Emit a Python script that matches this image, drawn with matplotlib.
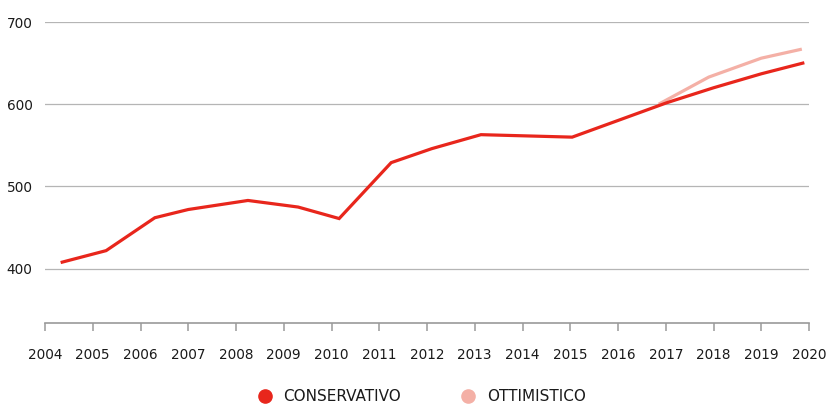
import matplotlib
matplotlib.use("Agg")
import matplotlib.pyplot as plt
from matplotlib.lines import Line2D

# valori
anni_cons = [2004.36, 2005.28, 2006.3, 2007.0, 2008.25, 2009.3, 2010.16, 2011.25,
             2012.1, 2013.13, 2015.04, 2017.03, 2018.0, 2019.0, 2019.87]
val_cons = [408, 422, 462, 472, 483, 475, 461, 529,
            546, 563, 560, 602, 620, 637, 650]

anni_ott = [2016.85, 2017.9, 2019.0, 2019.85]
val_ott = [600, 633, 656, 667]

anni_tick = list(range(2004, 2021))
y_tick = [400, 500, 600, 700]

ROSSO = "#e8261c"
ROSA = "#f4b0a6"
GRIGIO = "#9a9a9a"
TESTO = "#1a1a1a"

fig = plt.figure(figsize=(8.28, 4.04), dpi=100)
ax = fig.add_axes([45 / 828, 1 - 323 / 404, (809 - 45) / 828, (323 - 22) / 404])

ax.plot(anni_ott, val_ott, color=ROSA, lw=2.3, solid_capstyle="butt", zorder=3)
ax.plot(anni_cons, val_cons, color=ROSSO, lw=2.3, solid_joinstyle="miter", zorder=4)

ax.set_xlim(2004, 2020)
ax.set_ylim(334, 700)

ax.set_yticks(y_tick)
ax.set_xticks(anni_tick)
ax.set_xticklabels([str(a) for a in anni_tick])
ax.grid(axis="y", color="#b5b5b5", lw=0.9)
ax.set_axisbelow(True)

for s in ["top", "right", "left"]:
    ax.spines[s].set_visible(False)
ax.spines["bottom"].set_color(GRIGIO)
ax.spines["bottom"].set_linewidth(1.2)

ax.tick_params(axis="x", direction="out", length=6, width=1.1, color=GRIGIO,
               pad=12, labelsize=9.8, labelcolor=TESTO)
ax.tick_params(axis="y", length=0, pad=9, labelsize=9.8, labelcolor=TESTO)

maniglie = [
    Line2D([], [], ls="none", marker="o", ms=9.5, color=ROSSO, label="CONSERVATIVO"),
    Line2D([], [], ls="none", marker="o", ms=9.5, color=ROSA, label="OTTIMISTICO"),
]
fig.legend(handles=maniglie, loc="center", bbox_to_anchor=(0.51, 0.018), ncol=2,
           frameon=False, fontsize=11, handlelength=0.8, handletextpad=0.8,
           columnspacing=4.0, labelcolor=TESTO)

fig.savefig("out.png", dpi=100, facecolor="white")
